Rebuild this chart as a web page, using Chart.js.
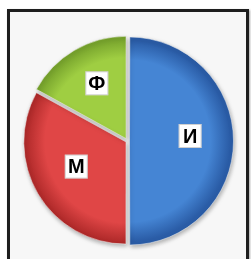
<!DOCTYPE html>
<html>
<head>
<meta charset="utf-8">
<script src="https://cdn.jsdelivr.net/npm/chart.js@4"></script>
<style>
  body { margin: 0; background: #fff; }
  #frame {
    position: absolute; left: 7px; top: 9px; width: 236px; height: 260px;
    border: 3px solid #1e1e1e; border-bottom: none;
    background: #f7f7f7;
    box-shadow: 1px 1px 2px rgba(0,0,0,0.35);
  }
  #wrap { position: absolute; left: 0; top: 0; width: 251px; height: 259px; }
</style>
</head>
<body>
<div id="frame"></div>
<div id="wrap"><canvas id="pieChart" width="251" height="259"></canvas></div>
<script>
// slices, clockwise from 12 o'clock
const labels = ['И', 'М', 'Ф'];
const values = [50, 33, 17];

// colours: inner / outer of the shading
const innerColors = ['#4585d4', '#e04646', '#9fce42'];
const outerColors = ['#2a5ca6', '#b02a2a', '#76a22c'];
// chart.js divides the offset by 4 (and adds a bit for big slices)
const sliceOffsets = [8, 7, 11];

const R = 102;

const shade = (c) => {
  const i = c.dataIndex;
  const chart = c.chart;
  const area = chart.chartArea;
  if (!area) return innerColors[i];
  const cx = (area.left + area.right) / 2;
  const cy = (area.top + area.bottom) / 2;
  const g = chart.ctx.createRadialGradient(cx, cy, 0, cx, cy, R + 6);
  g.addColorStop(0, innerColors[i]);
  g.addColorStop(0.75, innerColors[i]);
  g.addColorStop(0.93, outerColors[i]);
  g.addColorStop(1, outerColors[i]);
  return g;
};

// drop shadow under the slices
const shadowPlugin = {
  id: 'shadow',
  beforeDatasetsDraw(chart) {
    const ctx = chart.ctx;
    ctx.save();
    ctx.shadowColor = 'rgba(0,0,0,0.3)';
    ctx.shadowBlur = 4;
    ctx.shadowOffsetX = 1;
    ctx.shadowOffsetY = 2;
  },
  afterDatasetsDraw(chart) {
    chart.ctx.restore();
  }
};

// white boxed labels
const labelPlugin = {
  id: 'boxLabels',
  afterDraw(chart) {
    const ctx = chart.ctx;
    const meta = chart.getDatasetMeta(0);
    ctx.save();
    ctx.font = 'bold 20px "Liberation Sans", Arial, sans-serif';
    ctx.textAlign = 'center';
    ctx.textBaseline = 'middle';
    meta.data.forEach((arc, i) => {
      const mid = (arc.startAngle + arc.endAngle) / 2;
      const off = sliceOffsets[i] / 4;
      const shift = off + off * (1 - Math.sin(Math.min(Math.PI, arc.circumference)));
      const d = shift + R * 0.57;
      const x = arc.x + Math.cos(mid) * d;
      const y = arc.y + Math.sin(mid) * d - 5;
      ctx.fillStyle = '#ffffff';
      ctx.fillRect(x - 11, y - 12, 23, 24);
      ctx.strokeStyle = 'rgba(120,120,120,0.35)';
      ctx.lineWidth = 1;
      ctx.strokeRect(x - 11 + 0.5, y - 12 + 0.5, 22, 23);
      ctx.fillStyle = '#000000';
      ctx.fillText(labels[i], x + 0.5, y + 1);
    });
    ctx.restore();
  }
};

new Chart(document.getElementById('pieChart'), {
  type: 'pie',
  data: {
    labels: labels,
    datasets: [{
      data: values,
      backgroundColor: shade,
      borderColor: '#f4f4f4',
      borderWidth: 0.5,
      offset: sliceOffsets,
      radius: R,
    }]
  },
  options: {
    responsive: false,
    animation: false,
    layout: { padding: { left: 15, right: 11, top: 32, bottom: 9 } },
    plugins: {
      legend: { display: false },
      tooltip: { enabled: false },
    },
  },
  plugins: [shadowPlugin, labelPlugin],
});
</script>
</body>
</html>
